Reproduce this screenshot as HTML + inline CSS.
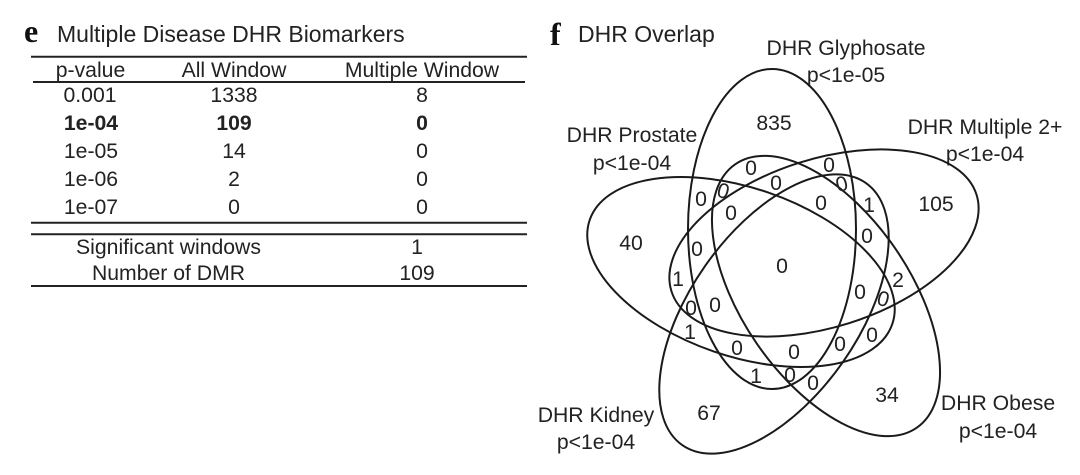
<!DOCTYPE html>
<html><head><meta charset="utf-8"><style>
html,body{margin:0;padding:0;background:#fff;width:1080px;height:475px;overflow:hidden}
svg{display:block}
text{font-family:"Liberation Sans",sans-serif;font-size:21.2px;fill:#222;text-anchor:middle}
.b{font-weight:bold}
.l{text-anchor:start;font-size:23px}
.h{font-family:"Liberation Serif",serif;font-weight:bold;font-size:32px;fill:#111;text-anchor:start}
ellipse{fill:none;stroke:#1a1a1a;stroke-width:2}
line{stroke:#222;stroke-width:2}
</style></head><body>
<svg width="1080" height="475" viewBox="0 0 1080 475" xmlns="http://www.w3.org/2000/svg">
<text class="h" x="24" y="42">e</text>
<text class="l" x="57" y="42">Multiple Disease DHR Biomarkers</text>
<line x1="31" y1="56.7" x2="527" y2="56.7"/>
<line x1="33" y1="82" x2="525" y2="82"/>
<line x1="31" y1="222.7" x2="527" y2="222.7"/>
<line x1="31" y1="234.3" x2="527" y2="234.3"/>
<line x1="31" y1="286" x2="527" y2="286"/>
<text x="90.5" y="77">p-value</text><text x="234" y="77">All Window</text><text x="422" y="77">Multiple Window</text>
<text x="90" y="102">0.001</text><text x="234" y="102">1338</text><text x="422" y="102">8</text>
<text class="b" x="91" y="130">1e-04</text><text class="b" x="234" y="130">109</text><text class="b" x="422" y="130">0</text>
<text x="91" y="158">1e-05</text><text x="234" y="158">14</text><text x="422" y="158">0</text>
<text x="91" y="186">1e-06</text><text x="234" y="186">2</text><text x="422" y="186">0</text>
<text x="91" y="214">1e-07</text><text x="234" y="214">0</text><text x="422" y="214">0</text>
<text x="168.5" y="254">Significant windows</text><text x="417" y="254">1</text>
<text x="168.5" y="280">Number of DMR</text><text x="417" y="280">109</text>

<text class="h" x="550" y="45">f</text>
<text class="l" x="578" y="42">DHR Overlap</text>
<text x="846" y="55">DHR Glyphosate</text><text x="846" y="82">p&lt;1e-05</text>
<text x="632" y="142">DHR Prostate</text><text x="632" y="170">p&lt;1e-04</text>
<text x="985" y="134">DHR Multiple 2+</text><text x="985" y="161">p&lt;1e-04</text>
<text x="596" y="422">DHR Kidney</text><text x="596" y="449">p&lt;1e-04</text>
<text x="998" y="410">DHR Obese</text><text x="998" y="438">p&lt;1e-04</text>

<ellipse cx="772" cy="229" rx="84" ry="160"/>
<ellipse cx="824" cy="243" rx="160" ry="84" transform="rotate(-17.6 824 243)"/>
<ellipse cx="741" cy="272" rx="160" ry="84" transform="rotate(19 741 272)"/>
<ellipse cx="826" cy="296" rx="84" ry="160" transform="rotate(-34.5 826 296)"/>
<ellipse cx="774" cy="314" rx="84" ry="160" transform="rotate(35 774 314)"/>

<g style="font-size:17.5px">
<text x="774" y="130">835</text>
<text x="936" y="211">105</text>
<text x="631" y="250">40</text>
<text x="709" y="420">67</text>
<text x="887" y="402">34</text>
<text x="782" y="273">0</text>
<text x="751" y="175">0</text><text x="829" y="172">0</text>
<text x="701" y="206">0</text><text x="723" y="198" transform="rotate(15 723 192)">0</text>
<text x="776" y="190">0</text><text x="842" y="191" transform="rotate(-15 842 185)">0</text>
<text x="731" y="220">0</text><text x="821" y="210">0</text>
<text x="869" y="212">1</text><text x="867" y="243">0</text>
<text x="697" y="256">0</text><text x="678" y="286">1</text>
<text x="691" y="315">0</text><text x="715" y="312">0</text>
<text x="860" y="299">0</text><text x="883" y="306" transform="rotate(15 883 300)">0</text><text x="898" y="287">2</text>
<text x="690" y="339">1</text><text x="737" y="355">0</text><text x="794" y="359">0</text>
<text x="840" y="351">0</text><text x="872" y="342">0</text>
<text x="756" y="383">1</text><text x="790" y="382">0</text><text x="813" y="390">0</text>
</g>
</svg>
</body></html>
